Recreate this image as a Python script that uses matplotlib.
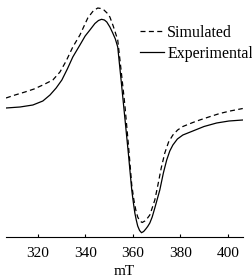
import matplotlib
matplotlib.use("Agg")
import matplotlib.pyplot as plt

# Field (mT) and derivative intensity (arbitrary units)
exp_field = [306.7, 312.6, 318.0, 322.2, 325.2, 327.8, 330.2, 332.5, 334.8, 337.8, 340.0,
             342.0, 344.1, 345.6, 346.9, 348.1, 349.1, 350.4, 351.6, 352.7, 353.7, 355.2,
             356.7, 358.2, 359.6, 360.3, 360.9, 361.5, 362.1, 362.9, 363.7, 364.6, 365.5,
             366.3, 367.2, 368.2, 369.3, 371.4, 372.9, 374.3, 375.6, 376.9, 378.8, 381.1,
             385.3, 390.0, 395.3, 400.5, 406.3]
exp_int = [0.02, 0.03, 0.05, 0.09, 0.15, 0.22, 0.30, 0.41, 0.53, 0.65, 0.74,
           0.80, 0.865, 0.895, 0.907, 0.90, 0.88, 0.83, 0.77, 0.71, 0.63, 0.28,
           -0.08, -0.44, -0.80, -0.93, -1.03, -1.10, -1.16, -1.205, -1.227, -1.215, -1.19,
           -1.165, -1.13, -1.07, -0.98, -0.80, -0.63, -0.50, -0.41, -0.35, -0.29, -0.25,
           -0.21, -0.165, -0.13, -0.11, -0.10]

sim_field = [306.7, 310.5, 314.7, 318.5, 322.2, 326.4, 329.4, 332.0, 334.8, 337.8, 341.1,
             343.2, 344.3, 345.3, 346.6, 347.9, 349.2, 350.4, 351.8, 353.7, 355.2, 356.7,
             358.2, 359.6, 360.5, 361.3, 362.1, 363.0, 364.0, 365.1, 366.1, 367.2, 368.2,
             369.3, 370.6, 372.0, 373.5, 375.1, 376.9, 378.9, 381.1, 385.3, 388.2, 392.0,
             396.6, 401.0, 406.3]
sim_int = [0.12, 0.15, 0.18, 0.21, 0.25, 0.30, 0.38, 0.49, 0.63, 0.75, 0.92,
           0.985, 1.005, 1.02, 1.015, 1.00, 0.97, 0.93, 0.84, 0.70, 0.38, 0.05,
           -0.35, -0.75, -0.90, -1.00, -1.07, -1.11, -1.125, -1.11, -1.085, -1.05, -0.98,
           -0.90, -0.75, -0.58, -0.43, -0.32, -0.25, -0.20, -0.165, -0.125, -0.10, -0.07,
           -0.035, -0.01, 0.015]

xticks = [320, 340, 360, 380, 400]

plt.rcParams['font.family'] = ['Liberation Serif', 'DejaVu Serif']

fig = plt.figure(figsize=(2.53, 2.77), dpi=100)
ax = fig.add_axes([6/253, 40/277, 237/253, 237/277])
ax.plot(sim_field, sim_int, color='black', lw=0.9, linestyle=(0, (4, 2.7)), label='Simulated')
ax.plot(exp_field, exp_int, color='black', lw=0.9, linestyle='-', label='Experimental')
ax.set_xlim(306.7, 406.4)
ax.set_ylim(-1.27, 1.10)
for s in ['left', 'right', 'top']:
    ax.spines[s].set_visible(False)
ax.spines['bottom'].set_linewidth(0.8)
ax.set_yticks([])
ax.set_xticks(xticks)
ax.tick_params(axis='x', direction='in', length=2.5, width=0.8, labelsize=11, pad=7.5)
ax.set_xlabel('mT', fontsize=11, labelpad=3.0)
leg = ax.legend(loc='upper left', bbox_to_anchor=(140/253, 1 - 25/277), bbox_transform=fig.transFigure,
                frameon=False, fontsize=11.5, handlelength=1.5, handletextpad=0.2,
                borderpad=0, borderaxespad=0, labelspacing=0.3)
fig.savefig('out.png', dpi=100)
